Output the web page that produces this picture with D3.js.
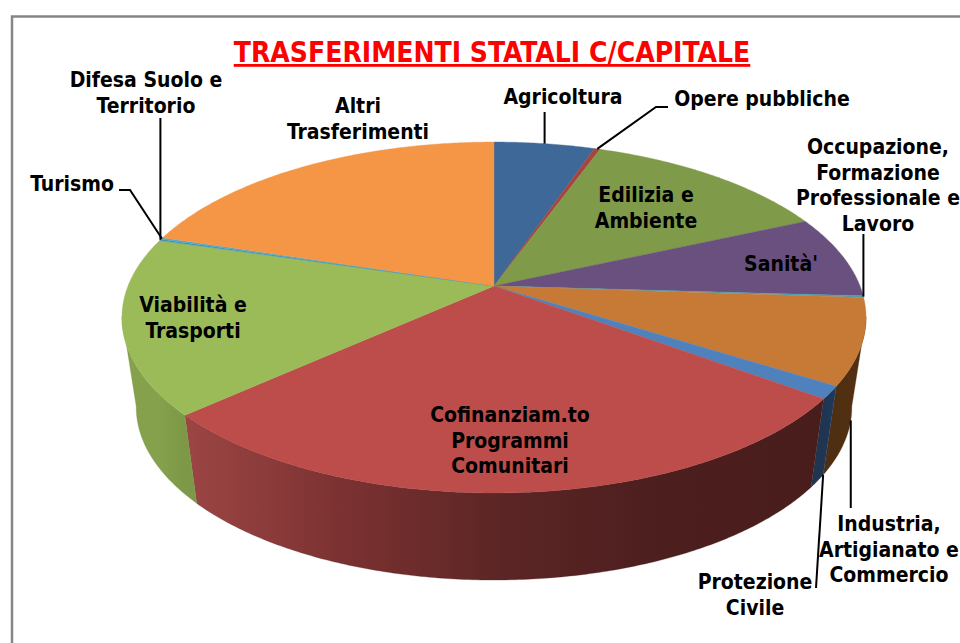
<!DOCTYPE html>
<html>
<head>
<meta charset="utf-8">
<script src="https://d3js.org/d3.v7.min.js"></script>
<style>
html, body { margin: 0; padding: 0; background: #fff; }
svg { display: block; }
.lab { font-family: "DejaVu Sans Condensed", "DejaVu Sans"; font-weight: bold; font-size: 21px; fill: #000; text-anchor: middle; white-space: pre; }
.lead { fill: none; stroke: #000; stroke-width: 2; }
</style>
</head>
<body>
<svg id="chart" width="960" height="643"></svg>
<script>
// percentages, clockwise from the top
var categories = ["Agricoltura", "Opere pubbliche", "Edilizia e Ambiente", "Sanità'",
    "Occupazione, Formazione Professionale e Lavoro", "Industria, Artigianato e Commercio",
    "Protezione Civile", "Cofinanziam.to Programmi Comunitari", "Viabilità e Trasporti",
    "Difesa Suolo e Territorio", "Turismo", "Altri Trasferimenti"];
var values = [5.2, 0.3, 12.8, 7.6, 0.15, 7.9, 1.15, 28.2, 16.2, 0.15, 0.15, 20.15];
var topColors = ["#3e6898", "#a4453f", "#7f9a48", "#69507f", "#4aa0b5", "#c67a36",
    "#4f81bd", "#bc4d4a", "#9bbb59", "#4a90b8", "#4bacc6", "#f49645"];
var wallColors = [["#2a4566"], ["#6e2e2b"], ["#55672f"], ["#463555"],
    ["#306b79"], ["#54300f", "#4f2f12"], ["#1f3a5c", "#1f3550"],
    ["#4a1d1d", "#4c1e1e", "#5c2525", "#7b3131", "#9c4644"],
    ["#7d9846", "#86a14c"], ["#554369"], ["#327385"], ["#a3642e"]];
var labelLines = [["Agricoltura"], ["Opere pubbliche"], ["Edilizia e", "Ambiente"], ["Sanità'"],
    ["Occupazione,", "Formazione", "Professionale e", "Lavoro"], ["Industria,", "Artigianato e", "Commercio"],
    ["Protezione", "Civile"], ["Cofinanziam.to", "Programmi", "Comunitari"], ["Viabilità e", "Trasporti"],
    ["Difesa Suolo e", "Territorio"], ["Turismo"], ["Altri", "Trasferimenti"]];
var labelX = [563, 762, 646, 781, 878, 889, 755, 510, 193, 146, 72, 358];
var labelY = [104, 106, 202, 271, 154, 531, 589, 422, 312, 87, 191, 113];
var titleText = "TRASFERIMENTI STATALI C/CAPITALE";

var svg = d3.select("#chart");

svg.append("rect").attr("x", 12).attr("y", 16.5).attr("width", 1000).attr("height", 700)
    .attr("fill", "#fff").attr("stroke", "#868686").attr("stroke-width", 2.5);

// tilted disc: a perspective view of a circle, so the apex sits above the ellipse centre
var tilt = 0.1795;
function disc(cx, cy, a, b) {
    return function (t) {
        var u = Math.sin(t), v = -Math.cos(t), w = 1 - tilt * v;
        return [cx + a * u / w, cy + b * v / w];
    };
}
var topDisc = disc(494, 286, 366, 169.8);
var baseDisc = disc(494, 376, 352, 167.4);

var pie = d3.pie().sort(null).value(function (d) { return d; });
var arcs = pie(values);

function arcPoints(f, t0, t1) {
    var n = Math.max(2, Math.ceil((t1 - t0) / 0.01));
    return d3.range(n + 1).map(function (i) { return f(t0 + (t1 - t0) * i / n); });
}
var line = d3.line();

var defs = svg.append("defs");
wallColors.forEach(function (c, i) {
    var g = defs.append("linearGradient").attr("id", "wall" + i).attr("gradientUnits", "userSpaceOnUse")
        .attr("x1", topDisc(arcs[i].startAngle)[0]).attr("x2", topDisc(arcs[i].endAngle)[0]).attr("y1", 0).attr("y2", 0);
    c.forEach(function (col, j) {
        g.append("stop").attr("offset", c.length > 1 ? j / (c.length - 1) : 0).attr("stop-color", col);
    });
});

// walls, only the part that faces the viewer (between the two tangent points)
var lo = Math.PI * 0.556, hi = Math.PI * 1.444;
arcs.forEach(function (d, i) {
    var t0 = Math.max(d.startAngle, lo), t1 = Math.min(d.endAngle, hi);
    if (t1 <= t0) return;
    var pts = arcPoints(topDisc, t0, t1).concat(arcPoints(baseDisc, t0, t1).reverse());
    svg.append("path").attr("d", line(pts) + "Z").attr("fill", "url(#wall" + i + ")")
        .attr("stroke", wallColors[i][0]).attr("stroke-width", 0.3);
});

// top face
arcs.forEach(function (d, i) {
    var pts = [[494, 286]].concat(arcPoints(topDisc, d.startAngle, d.endAngle));
    svg.append("path").attr("d", line(pts) + "Z").attr("fill", topColors[i])
        .attr("stroke", topColors[i]).attr("stroke-width", 0.4);
});

// leader lines: label side is placed by hand, slice side comes from the pie
function mid(d) { return (d.startAngle + d.endAngle) / 2; }
var onTop = function (i) { return topDisc(mid(arcs[i])); };
var indA = baseDisc(arcs[5].startAngle + (arcs[5].endAngle - arcs[5].startAngle) * 0.38);
var proA = baseDisc(arcs[6].startAngle);
var leaders = [
    [[onTop(0)[0], 112], onTop(0)],
    [[668, 107], [656, 107], onTop(1)],
    [[onTop(4)[0], 234], onTop(4)],
    [[indA[0], 508], indA],
    [[816, 588], proA],
    [[onTop(9)[0], 118], onTop(9)],
    [[119, 190], [130, 190], onTop(10)]
];
leaders.forEach(function (p) {
    svg.append("path").attr("class", "lead").attr("d", line(p));
});

// labels
labelLines.forEach(function (lines, i) {
    var t = svg.append("text").attr("class", "lab").attr("x", labelX[i]).attr("y", labelY[i]);
    lines.forEach(function (s, j) {
        t.append("tspan").attr("x", labelX[i]).attr("dy", j ? 25.6 : 0).text(s);
    });
});

svg.append("text").attr("x", 492).attr("y", 62).attr("text-anchor", "middle")
    .style("font-family", "'DejaVu Sans Condensed'").style("font-weight", "bold").style("font-size", "28px")
    .style("fill", "#ff0000").style("text-decoration", "underline").text(titleText);
</script>
</body>
</html>
